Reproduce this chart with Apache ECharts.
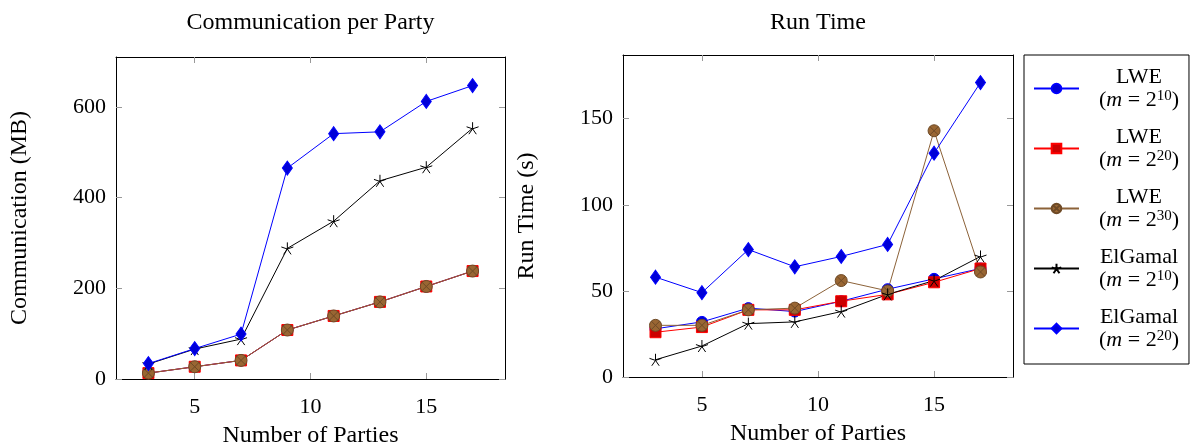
<!DOCTYPE html>
<html>
<head>
<meta charset="utf-8">
<script src="https://cdn.jsdelivr.net/npm/echarts@6/dist/echarts.min.js"></script>
<style>
  html, body { margin: 0; padding: 0; background: #fff; }
  #main { width: 1204px; height: 448px; }
</style>
</head>
<body>
<div id="main"></div>
<script>
// number of parties (x values, shared by both plots)
var parties = [3, 5, 7, 9, 11, 13, 15, 17];

// communication per party (MB)
var commLWE10 = [13, 27, 41, 108, 139, 170, 204, 238];
var commLWE20 = [13, 27, 41, 108, 139, 170, 204, 238];
var commLWE30 = [13, 27, 41, 108, 139, 170, 204, 238];
var commElG10 = [33, 66, 88, 288, 348, 437, 467, 553];
var commElG20 = [34, 67, 99, 465, 541, 545, 612, 647];

// run time (s)
var timeLWE10 = [28, 32, 40, 38, 44, 51, 57, 63];
var timeLWE20 = [26, 29, 39, 39, 44, 48, 55, 63];
var timeLWE30 = [30, 30, 39, 40, 56, 50, 143, 61];
var timeElG10 = [10, 18, 31, 32, 38, 48, 56, 70];
var timeElG20 = [58, 49, 74, 64, 70, 77, 130, 171];

var xTicks = [5, 10, 15];
var commTicks = [0, 200, 400, 600];
var timeTicks = [0, 50, 100, 150];

var seriesNames = ['LWE10', 'LWE20', 'LWE30', 'ElG10', 'ElG20'];
var legendText = {
    LWE10: ['LWE', '10'],
    LWE20: ['LWE', '20'],
    LWE30: ['LWE', '30'],
    ElG10: ['ElGamal', '10'],
    ElG20: ['ElGamal', '20']
};

var font = 'Liberation Serif';
var tickFs = 22;
var nameFs = 24;
var legFs = 22;

var starPath = 'path://M0,0L0,-10M0,0L9.51,-3.09M0,0L5.88,8.09M0,0L-5.88,8.09M0,0L-9.51,-3.09';
var otimesPath = 'path://M10,0A10,10,0,1,1,-10,0A10,10,0,1,1,10,0ZM7.07,7.07L-7.07,-7.07M-7.07,7.07L7.07,-7.07';

var styles = {
    LWE10: { symbol: 'circle', symbolSize: 11, line: '#0000ff', fill: '#0000d8', border: '#0000ff' },
    LWE20: { symbol: 'rect', symbolSize: 11, line: '#ff0000', fill: '#cc0000', border: '#ff0000' },
    LWE30: { symbol: otimesPath, symbolSize: 12, line: '#8c6239', fill: '#996633', border: '#6e4a26' },
    ElG10: { symbol: starPath, symbolSize: 12, line: '#000000', fill: 'rgba(0,0,0,0)', border: '#000000' },
    ElG20: { symbol: 'diamond', symbolSize: [10, 14], line: '#0000ff', fill: '#0000d8', border: '#0000ff' }
};

function pairs(ys) {
    return parties.map(function (x, i) { return [x, ys[i]]; });
}

function makeSeries(name, ys, axisIdx) {
    var s = styles[name];
    return {
        name: name,
        type: 'line',
        xAxisIndex: axisIdx,
        yAxisIndex: axisIdx,
        data: pairs(ys),
        symbol: s.symbol,
        symbolSize: s.symbolSize,
        showAllSymbol: true,
        lineStyle: { color: s.line, width: 1 },
        itemStyle: { color: s.fill, borderColor: s.border, borderWidth: 1 },
        emphasis: { disabled: true },
        animation: false
    };
}

function tick(values) {
    return { show: true, inside: true, length: 6, lineStyle: { color: '#999' }, customValues: values };
}

function frameAxis(base) {
    var a = {
        type: 'value',
        axisLine: { show: true, onZero: false, lineStyle: { color: '#000', width: 1 } },
        splitLine: { show: false },
        nameTextStyle: { color: '#000', fontFamily: font, fontSize: nameFs }
    };
    for (var k in base) a[k] = base[k];
    return a;
}

function label(values, margin) {
    return { show: true, color: '#000', fontFamily: font, fontSize: tickFs, margin: margin, customValues: values };
}

function xAxes(gridIdx, title, titleGap) {
    return [
        frameAxis({
            gridIndex: gridIdx, position: 'bottom', min: 1.6, max: 18.4,
            name: 'Number of Parties', nameLocation: 'middle', nameGap: 45,
            axisTick: tick(xTicks), axisLabel: label(xTicks, 17)
        }),
        frameAxis({
            gridIndex: gridIdx, position: 'top', min: 1.6, max: 18.4,
            name: title, nameLocation: 'middle', nameGap: titleGap,
            axisTick: tick(xTicks), axisLabel: { show: false }
        })
    ];
}

function yAxes(gridIdx, max, ticks, name) {
    return [
        frameAxis({
            gridIndex: gridIdx, position: 'left', min: 0, max: max,
            name: name, nameLocation: 'middle', nameGap: 84,
            axisTick: tick(ticks), axisLabel: label(ticks, 10)
        }),
        frameAxis({
            gridIndex: gridIdx, position: 'right', min: 0, max: max,
            axisTick: tick(ticks), axisLabel: { show: false }
        })
    ];
}

var chart = echarts.init(document.getElementById('main'), null, { renderer: 'canvas' });

var xs = xAxes(0, 'Communication per Party', 22).concat(xAxes(1, 'Run Time', 20));
var ys = yAxes(0, 710, commTicks, 'Communication (MB)').concat(yAxes(1, 187, timeTicks, 'Run Time (s)'));

// right plot uses x axis 2 (bottom) and y axis 2 (left)
var series = [
    makeSeries('LWE10', commLWE10, 0),
    makeSeries('LWE20', commLWE20, 0),
    makeSeries('LWE30', commLWE30, 0),
    makeSeries('ElG10', commElG10, 0),
    makeSeries('ElG20', commElG20, 0),
    makeSeries('LWE10', timeLWE10, 2),
    makeSeries('LWE20', timeLWE20, 2),
    makeSeries('LWE30', timeLWE30, 2),
    makeSeries('ElG10', timeElG10, 2),
    makeSeries('ElG20', timeElG20, 2)
];

var option = {
    backgroundColor: '#fff',
    animation: false,
    grid: [
        { left: 116, top: 57, width: 389, height: 322, outerBoundsMode: 'none', containLabel: false },
        { left: 623, top: 55, width: 390, height: 322, outerBoundsMode: 'none', containLabel: false }
    ],
    xAxis: xs,
    yAxis: ys,
    legend: {
        orient: 'vertical',
        left: 1024,
        top: 55,
        width: 177,
        padding: [11, 10, 13, 9],
        itemGap: 15,
        itemWidth: 45,
        itemHeight: 12,
        borderColor: '#000',
        borderWidth: 1,
        data: seriesNames,
        selectedMode: false,
        formatter: function (name) {
            var t = legendText[name];
            return '{t|' + t[0] + '}\n{t|(}{i|m}{t| = 2}{s|' + t[1] + '}{t|)}';
        },
        textStyle: {
            color: '#000',
            fontFamily: font,
            fontSize: legFs,
            width: 110,
            align: 'center',
            rich: {
                t: { fontFamily: font, fontSize: legFs, lineHeight: 23, color: '#000', align: 'center' },
                i: { fontFamily: font, fontSize: legFs, lineHeight: 23, color: '#000', fontStyle: 'italic', align: 'center' },
                s: { fontFamily: font, fontSize: 15, lineHeight: 23, color: '#000', verticalAlign: 'top', align: 'center' }
            }
        }
    },
    series: series
};

chart.setOption(option);
</script>
</body>
</html>
